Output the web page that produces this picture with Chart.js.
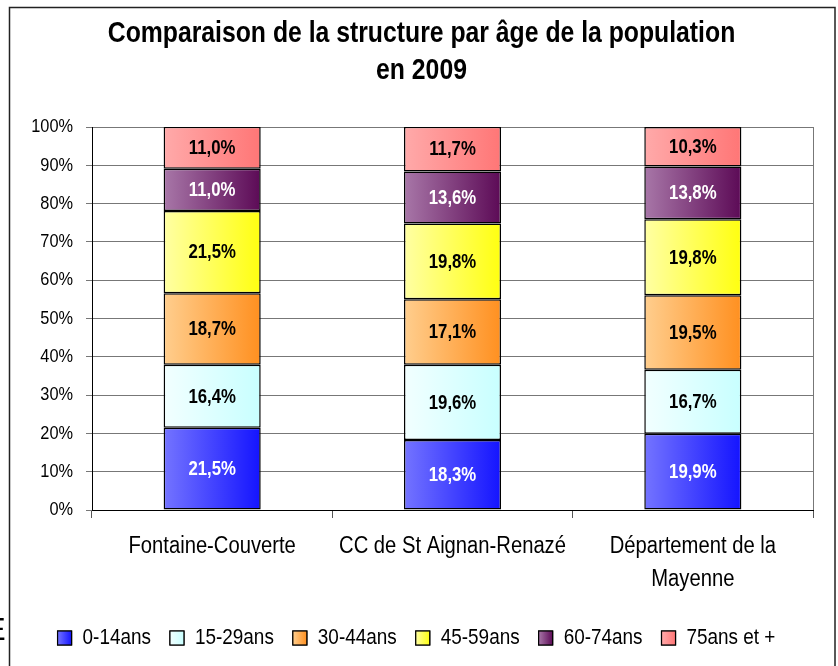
<!DOCTYPE html>
<html>
<head>
<meta charset="utf-8">
<script src="https://cdn.jsdelivr.net/npm/chart.js@4.4.0/dist/chart.umd.min.js"></script>
<style>
  html, body { margin: 0; padding: 0; background: #fff; }
  #wrap { position: relative; width: 838px; height: 666px; overflow: hidden; }
  #frag { position: absolute; left: -15px; top: 612px; font: 31px "Liberation Sans", Arial, sans-serif; color: #000; }
</style>
</head>
<body>
<div id="wrap">
  <canvas id="chart" width="838" height="666"></canvas>
  <span id="frag">E</span>
</div>
<script>
const FONT = '"Liberation Sans", Arial, sans-serif';

const categories = ["Fontaine-Couverte", "CC de St Aignan-Renazé", ["Département de la", "Mayenne"]];
const seriesNames = ["0-14ans", "15-29ans", "30-44ans", "45-59ans", "60-74ans", "75ans et +"];

const age0_14 = [21.5, 18.3, 19.9];
const age15_29 = [16.4, 19.6, 16.7];
const age30_44 = [18.7, 17.1, 19.5];
const age45_59 = [21.5, 19.8, 19.8];
const age60_74 = [11.0, 13.6, 13.8];
const age75plus = [11.0, 11.7, 10.3];

const yTicks = [0, 10, 20, 30, 40, 50, 60, 70, 80, 90, 100];

// light (left) -> dark (right) gradient stops, plus label colour
const styles = [
    { light: "#7474ff", dark: "#1414ff", label: "#fff" },
    { light: "#f2ffff", dark: "#c8ffff", label: "#000" },
    { light: "#ffce8e", dark: "#ff9020", label: "#000" },
    { light: "#ffffa4", dark: "#ffff10", label: "#000" },
    { light: "#a877a8", dark: "#5c0a56", label: "#fff" },
    { light: "#ffaaaa", dark: "#ff7676", label: "#000" },
];

const BAR_PCT = 0.404;
// the original uses a narrow face; no narrow font here, so squeeze text horizontally
const SQUEEZE = 0.86;

const canvas = document.getElementById("chart");
const c2d = canvas.getContext("2d");
const rawFill = c2d.fillText.bind(c2d);
const rawMeasure = c2d.measureText.bind(c2d);
c2d.fillText = function (text, x, y) {
    this.save();
    this.translate(x, y);
    this.scale(SQUEEZE, 1);
    rawFill(text, 0, 0);
    this.restore();
};
c2d.measureText = function (text) {
    const m = rawMeasure(text);
    return {
        width: m.width * SQUEEZE,
        actualBoundingBoxAscent: m.actualBoundingBoxAscent,
        actualBoundingBoxDescent: m.actualBoundingBoxDescent,
        actualBoundingBoxLeft: m.actualBoundingBoxLeft * SQUEEZE,
        actualBoundingBoxRight: m.actualBoundingBoxRight * SQUEEZE,
    };
};

function hGradient(ctx, x0, x1, i) {
    const g = ctx.createLinearGradient(x0, 0, x1, 0);
    g.addColorStop(0, styles[i].light);
    g.addColorStop(1, styles[i].dark);
    return g;
}

function barGradient(i) {
    return (ctx) => {
        const chart = ctx.chart;
        const xs = chart.scales && chart.scales.x;
        if (ctx.dataIndex === undefined || !xs || !chart.chartArea) {
            return styles[i].dark;
        }
        const cx = xs.getPixelForValue(ctx.dataIndex);
        const hw = (xs.width / categories.length) * BAR_PCT / 2;
        return hGradient(chart.ctx, cx - hw, cx + hw, i);
    };
}

const allValues = [age0_14, age15_29, age30_44, age45_59, age60_74, age75plus];

const datasets = allValues.map((vals, i) => ({
    label: seriesNames[i],
    data: vals,
    backgroundColor: barGradient(i),
    borderColor: "#000",
    borderWidth: 1.5,
    borderSkipped: false,
    barPercentage: BAR_PCT,
    categoryPercentage: 1,
}));

// white page + outer frame + right edge of plot
const framePlugin = {
    id: "frame",
    afterLayout(chart) {
        // title and legend sit centred on the whole frame, not on the padded area
        if (chart.titleBlock) {
            chart.titleBlock.left += 15;
            chart.titleBlock.right += 15;
        }
        if (chart.legend) {
            chart.legend.left += 10;
            chart.legend.right += 10;
        }
    },
    beforeDraw(chart) {
        const c = chart.ctx;
        c.save();
        c.fillStyle = "#fff";
        c.fillRect(0, 0, chart.width, chart.height);
        c.strokeStyle = "#222";
        c.lineWidth = 1.5;
        c.strokeRect(9.5, 7.5, 825.5, 700);
        c.restore();
    },
    beforeDatasetsDraw(chart) {
        const a = chart.chartArea;
        const c = chart.ctx;
        c.save();
        c.strokeStyle = "#777";
        c.lineWidth = 1;
        c.beginPath();
        c.moveTo(Math.round(a.right) + 0.5, a.top);
        c.lineTo(Math.round(a.right) + 0.5, a.bottom);
        c.stroke();
        c.restore();
    },
    afterDraw(chart) {
        // repaint legend boxes with the same gradients as the bars
        const lg = chart.legend;
        if (!lg || !lg.legendHitBoxes) return;
        const c = chart.ctx;
        const bw = lg.options.labels.boxWidth;
        const fs = lg.options.labels.font.size;
        c.save();
        lg.legendHitBoxes.forEach((hb, i) => {
            const x = hb.left;
            const y = hb.top + Math.max((fs - bw) / 2, 0);
            c.fillStyle = hGradient(c, x, x + bw, i);
            c.fillRect(x, y, bw, bw);
            c.strokeStyle = "#000";
            c.lineWidth = 1.2;
            c.strokeRect(x, y, bw, bw);
        });
        c.restore();
    },
};

const valueLabels = {
    id: "valueLabels",
    afterDatasetsDraw(chart) {
        const c = chart.ctx;
        c.save();
        c.font = "bold 19.5px " + FONT;
        c.textAlign = "center";
        c.textBaseline = "middle";
        chart.data.datasets.forEach((ds, i) => {
            const meta = chart.getDatasetMeta(i);
            meta.data.forEach((bar, j) => {
                const v = ds.data[j];
                c.fillStyle = styles[i].label;
                c.fillText(v.toFixed(1).replace(".", ",") + "%", bar.x, (bar.y + bar.base) / 2 + 1);
            });
        });
        c.restore();
    },
};

new Chart(canvas, {
    type: "bar",
    data: { labels: categories, datasets: datasets },
    plugins: [framePlugin, valueLabels],
    options: {
        responsive: false,
        animation: false,
        layout: { padding: { left: 0, right: 25, top: 0, bottom: 7 } },
        plugins: {
            tooltip: { enabled: false },
            title: {
                display: true,
                text: ["Comparaison de la structure par âge de la population", "en 2009"],
                color: "#000",
                font: { family: FONT, size: 28.8, weight: "bold", lineHeight: 1.285 },
                padding: { top: 16, bottom: 37 },
            },
            legend: {
                position: "bottom",
                labels: {
                    color: "#000",
                    font: { family: FONT, size: 22 },
                    boxWidth: 14,
                    boxHeight: 14,
                    padding: 19,
                    generateLabels(chart) {
                        return chart.data.datasets.map((ds, i) => ({
                            text: ds.label,
                            fillStyle: styles[i].dark,
                            strokeStyle: "#000",
                            lineWidth: 1.2,
                            fontColor: "#000",
                            datasetIndex: i,
                            hidden: false,
                        }));
                    },
                },
            },
        },
        scales: {
            x: {
                stacked: true,
                afterFit(scale) { scale.height = 98; },
                grid: { drawOnChartArea: false, tickLength: 8, color: "#555", offset: true },
                border: { color: "#000", width: 1 },
                ticks: {
                    color: "#000",
                    padding: 12,
                    font: { family: FONT, size: 23.5, lineHeight: 1.4 },
                    maxRotation: 0,
                    autoSkip: false,
                },
            },
            y: {
                stacked: true,
                min: 0,
                max: 100,
                afterFit(scale) { scale.width = 92; },
                afterBuildTicks(scale) { scale.ticks = yTicks.map((v) => ({ value: v })); },
                grid: { color: "#777", tickLength: 6 },
                border: { color: "#000", width: 1 },
                ticks: {
                    color: "#000",
                    padding: 13,
                    font: { family: FONT, size: 19 },
                    callback: (v) => v + "%",
                },
            },
        },
    },
});
</script>
</body>
</html>
